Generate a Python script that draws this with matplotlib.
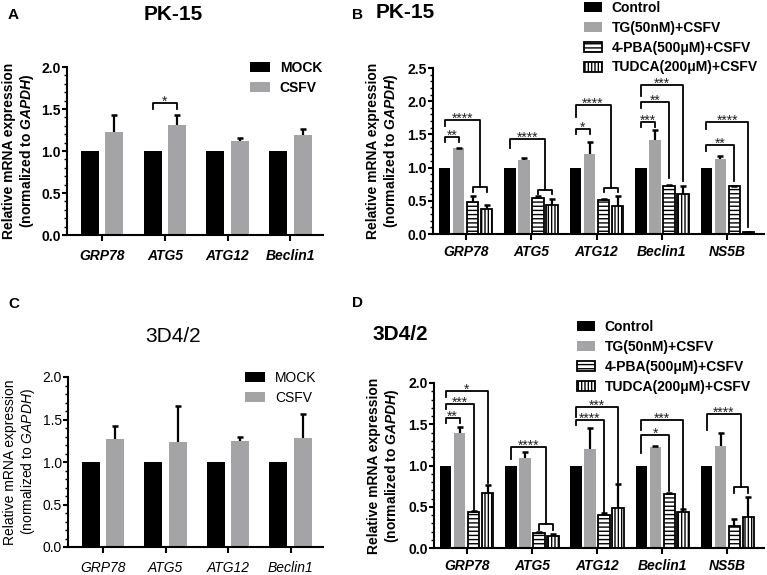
import numpy as np
import matplotlib
matplotlib.use("Agg")
import matplotlib.pyplot as plt
from matplotlib.ticker import MultipleLocator

plt.rcParams['font.family'] = ['Liberation Sans', 'DejaVu Sans']
plt.rcParams['mathtext.fontset'] = 'custom'
plt.rcParams['mathtext.it'] = 'Liberation Sans:italic'
plt.rcParams['mathtext.bfit'] = 'Liberation Sans:italic:bold'
plt.rcParams['mathtext.rm'] = 'Liberation Sans'
plt.rcParams['hatch.linewidth'] = 1.0

# --- data: panels A / C (MOCK vs CSFV) ---
genes_ac = ['GRP78', 'ATG5', 'ATG12', 'Beclin1']
groups_ac = ['MOCK', 'CSFV']
mock_a = [1.0, 1.0, 1.0, 1.0]
csfv_a = [1.23, 1.31, 1.12, 1.19]
csfv_a_err = [0.20, 0.12, 0.04, 0.07]
mock_c = [1.0, 1.0, 1.0, 1.0]
csfv_c = [1.27, 1.23, 1.25, 1.28]
csfv_c_err = [0.15, 0.43, 0.04, 0.28]

# --- data: panels B / D (treatments) ---
genes_bd = ['GRP78', 'ATG5', 'ATG12', 'Beclin1', 'NS5B']
groups_bd = ['Control', 'TG(50nM)+CSFV', '4-PBA(500μM)+CSFV', 'TUDCA(200μM)+CSFV']

ctrl_b = [1.0, 1.0, 1.0, 1.0, 1.0]
tg_b = [1.29, 1.12, 1.21, 1.42, 1.13]
tg_b_err = [0.01, 0.03, 0.18, 0.14, 0.04]
pba_b = [0.48, 0.54, 0.51, 0.72, 0.72]
pba_b_err = [0.09, 0.03, 0.01, 0.02, 0.01]
tudca_b = [0.38, 0.43, 0.42, 0.60, 0.025]
tudca_b_err = [0.06, 0.09, 0.15, 0.13, 0.01]

ctrl_d = [1.0, 1.0, 1.0, 1.0, 1.0]
tg_d = [1.40, 1.09, 1.20, 1.22, 1.24]
tg_d_err = [0.07, 0.07, 0.25, 0.02, 0.16]
pba_d = [0.44, 0.18, 0.40, 0.65, 0.27]
pba_d_err = [0.01, 0.01, 0.02, 0.02, 0.08]
tudca_d = [0.67, 0.15, 0.48, 0.44, 0.37]
tudca_d_err = [0.09, 0.02, 0.29, 0.03, 0.25]

# significance brackets: (gene, from, to, height, left leg end, right leg end, label)
# to == '23' -> joined to a small bracket over 4-PBA / TUDCA
sig_a = [(1, 0, 1, 1.57, 1.50, 1.50, '*')]
sig_b = [
    (0, 0, 1, 1.46, 1.38, 1.38, '**'),
    (0, 0, '23', 1.72, 1.63, 0.71, '****'),
    (1, 0, '23', 1.43, 1.29, 0.67, '****'),
    (2, 0, 1, 1.58, 1.51, 1.51, '*'),
    (2, 0, '23', 1.94, 1.76, 0.70, '****'),
    (3, 0, 1, 1.69, 1.61, 1.61, '***'),
    (3, 0, 2, 1.99, 1.90, 0.85, '**'),
    (3, 0, 3, 2.25, 2.08, 0.80, '***'),
    (4, 0, 2, 1.34, 1.25, 0.80, '**'),
    (4, 0, 3, 1.69, 1.58, 0.11, '****'),
]
sig_d = [
    (0, 0, 1, 1.58, 1.52, 1.52, '**'),
    (0, 0, 2, 1.74, 1.68, 0.46, '***'),
    (0, 0, 3, 1.90, 1.83, 0.79, '*'),
    (1, 0, '23', 1.23, 1.08, 0.29, '****'),
    (2, 0, 2, 1.55, 1.49, 0.42, '****'),
    (2, 0, 3, 1.71, 1.59, 0.79, '***'),
    (3, 0, 2, 1.37, 1.15, 0.69, '*'),
    (3, 0, 3, 1.55, 1.43, 0.46, '***'),
    (4, 0, '23', 1.63, 1.43, 0.74, '****'),
]

GRAY = '#a4a4a6'
W, H = 767, 575

fig = plt.figure(figsize=(7.67, 5.75), dpi=100)


def px_axes(l, r, t, b):
    return fig.add_axes([l / W, 1 - b / H, (r - l) / W, (b - t) / H])


def style_axes(ax, ymax, genes, bold, ylabel_x):
    wt = 'bold' if bold else 'normal'
    for s in ['top', 'right']:
        ax.spines[s].set_visible(False)
    for s in ['left', 'bottom']:
        ax.spines[s].set_linewidth(1.5)
    ax.set_ylim(0, ymax)
    ax.yaxis.set_major_locator(MultipleLocator(0.5))
    ax.yaxis.set_minor_locator(MultipleLocator(0.1))
    ax.yaxis.set_major_formatter(matplotlib.ticker.FormatStrFormatter('%.1f'))
    ax.tick_params(axis='y', which='major', length=3.5, width=1.5, pad=1, labelsize=10)
    ax.tick_params(axis='y', which='minor', length=2, width=1.0)
    ax.set_xticks(range(len(genes)))
    ax.set_xticklabels(genes, fontstyle='italic', fontweight=wt, fontsize=10)
    ax.tick_params(axis='x', length=4, width=1.5, pad=6)
    for t in ax.get_yticklabels():
        t.set_fontweight(wt)
    gap = r'$\mathbfit{GAPDH}$' if bold else r'$\mathit{GAPDH}$'
    ax.set_ylabel('Relative mRNA expression\n(normalized to ' + gap + ')',
                  fontsize=10, fontweight=wt, linespacing=1.15)
    ax.yaxis.set_label_coords(ylabel_x, 0.5)


def draw_err(ax, x, vals, errs):
    x = np.asarray(x)
    vals = np.asarray(vals)
    errs = np.asarray(errs)
    m = errs > 0
    ax.errorbar(x[m], vals[m], yerr=[np.zeros(m.sum()), errs[m]], fmt='none',
                ecolor='k', elinewidth=1.6, capsize=0, zorder=3)
    ax.plot(x[m], vals[m] + errs[m], ls='none', marker='_', ms=5, mew=1.8,
            color='k', zorder=3)


def draw_sig(ax, sigs, xpos):
    for g, i, j, y, yl, yr, lab in sigs:
        x1 = xpos[i][g]
        if j == '23':
            a, b = xpos[2][g], xpos[3][g]
            x2 = (a + b) / 2
            ax.plot([a, a, b, b], [yr - 0.07, yr, yr, yr - 0.07], color='k', lw=1.3, zorder=4)
        else:
            x2 = xpos[j][g]
        ax.plot([x1, x1, x2, x2], [yl, y, y, yr], color='k', lw=1.3, zorder=4)
        ax.annotate(lab, ((x1 + x2) / 2, y), xytext=(0, -2), textcoords='offset points',
                    ha='center', va='baseline', fontsize=10, color='#222222')


def panel_two(ax, mock, csfv, csfv_err, sigs, bold, leg_xy):
    x = np.arange(len(genes_ac))
    off, wd = 0.195, 0.29
    b1 = ax.bar(x - off, mock, wd, color='black', zorder=2, label=groups_ac[0])
    b2 = ax.bar(x + off, csfv, wd, color=GRAY, zorder=2, label=groups_ac[1])
    draw_err(ax, x + off, csfv, csfv_err)
    draw_sig(ax, sigs, [x - off, x + off])
    ax.set_xlim(-0.56, 3.52)
    style_axes(ax, 2.0, genes_ac, bold, -0.121)
    ax.legend(handles=[b1, b2], loc='upper left', bbox_to_anchor=leg_xy,
              bbox_transform=fig.transFigure, frameon=False, borderpad=0,
              borderaxespad=0, handlelength=1.45, handleheight=0.75,
              handletextpad=0.7, labelspacing=0.4,
              prop=dict(size=10, weight='bold' if bold else 'normal'))


def panel_four(ax, series, errs, sigs, ymax, leg_xy):
    x = np.arange(len(genes_bd))
    pitch, wd = 0.214, 0.176
    xpos = [x + (k - 1.5) * pitch for k in range(4)]
    styles = [dict(color='black'), dict(color=GRAY),
              dict(facecolor='white', edgecolor='black', hatch='----', linewidth=1.3),
              dict(facecolor='white', edgecolor='black', hatch='|||||', linewidth=1.3)]
    handles = []
    for k in range(4):
        handles.append(ax.bar(xpos[k], series[k], wd, zorder=2, label=groups_bd[k], **styles[k]))
        if errs[k] is not None:
            draw_err(ax, xpos[k], series[k], errs[k])
    draw_sig(ax, sigs, xpos)
    ax.set_xlim(-0.5, 4.56)
    style_axes(ax, ymax, genes_bd, True, -0.100)
    ax.tick_params(axis='x', pad=4)
    ax.legend(handles=handles, loc='upper left', bbox_to_anchor=leg_xy,
              bbox_transform=fig.transFigure, frameon=False, borderpad=0,
              borderaxespad=0, handlelength=1.3, handleheight=0.7,
              handletextpad=0.7, labelspacing=0.42,
              prop=dict(size=10, weight='bold'))


axA = px_axes(67, 323, 67, 235)
panel_two(axA, mock_a, csfv_a, csfv_a_err, sig_a, True, (250 / W, 1 - 61 / H))

axC = px_axes(68, 323, 377, 547)
panel_two(axC, mock_c, csfv_c, csfv_c_err, [], False, (245 / W, 1 - 371 / H))

axB = px_axes(433, 764, 68, 234)
panel_four(axB, [ctrl_b, tg_b, pba_b, tudca_b], [None, tg_b_err, pba_b_err, tudca_b_err],
           sig_b, 2.5, (584 / W, 1 - 1 / H))

axD = px_axes(434, 764, 383, 548)
panel_four(axD, [ctrl_d, tg_d, pba_d, tudca_d], [None, tg_d_err, pba_d_err, tudca_d_err],
           sig_d, 2.0, (577 / W, 1 - 320 / H))

# titles and panel letters
fig.text(173 / W, 1 - 14 / H, 'PK-15', ha='center', va='center', fontsize=15, fontweight='bold')
fig.text(405 / W, 1 - 13 / H, 'PK-15', ha='center', va='center', fontsize=15, fontweight='bold')
fig.text(173 / W, 1 - 336 / H, '3D4/2', ha='center', va='center', fontsize=15)
fig.text(400 / W, 1 - 335 / H, '3D4/2', ha='center', va='center', fontsize=15, fontweight='bold')
for lab, xx, yy in [('A', 8, 15), ('B', 352, 15), ('C', 8, 304), ('D', 352, 303)]:
    fig.text(xx / W, 1 - yy / H, lab, ha='left', va='center', fontsize=11, fontweight='bold')

fig.savefig('out.png', dpi=100)
